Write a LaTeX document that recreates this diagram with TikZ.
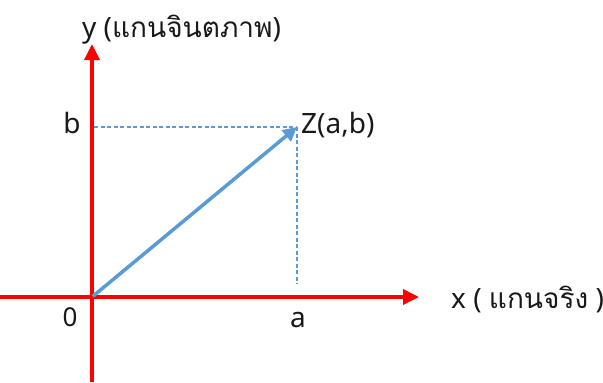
\documentclass[tikz,border=0pt]{standalone}
\usepackage{fontspec}
\setmainfont{Noto Sans}
\newfontfamily\thaifont[Script=Thai]{Loma}
\usetikzlibrary{arrows.meta}
\definecolor{axisred}{RGB}{255,0,0}
\definecolor{vecblue}{RGB}{91,155,213}
\definecolor{txt}{RGB}{25,25,25}
\tikzset{
  axisline/.style={draw=axisred, line width=3.5pt, -{Triangle[length=16pt,width=15pt]}},
  vecline/.style={draw=vecblue, line width=3.5pt, -{Triangle[length=14pt,width=14pt]}, shorten <=1pt},
  guide/.style={draw=vecblue, line width=1.1pt, dash pattern=on 4pt off 2.5pt},
  lbl/.style={text=txt, font=\fontsize{28}{32}\selectfont, inner sep=0pt},
  smalllbl/.style={text=txt, font=\fontsize{26}{30}\selectfont, inner sep=0pt}
}
\begin{document}
\begin{tikzpicture}[x=1pt,y=-1pt]
\useasboundingbox (0,0) rectangle (603,383);
\coordinate (O) at (92,297);
\coordinate (Ybot) at (92,382);
\coordinate (Ytop) at (92,44);
\coordinate (Xleft) at (0,297);
\coordinate (Xright) at (419,297);
\coordinate (Z) at (297,127);
\coordinate (Bpt) at (94,127);
\coordinate (Apt) at (297,284);
% axes
\draw[axisline] (Ybot) -- (Ytop);
\draw[axisline] (Xleft) -- (Xright);
% guides
\draw[guide] (Bpt) -- (Z);
\draw[guide] (Z) -- (Apt);
% vector
\draw[vecline] (O) -- (Z);
% labels
\node[lbl, anchor=base west] (ylab) at (82,37) {y ({\thaifont แกนจินตภาพ})};
\node[lbl, anchor=base] (blab) at (72,133) {b};
\node[lbl, anchor=base west] (zlab) at (301,133) {Z(a,b)};
\node[smalllbl, anchor=base] (olab) at (70,326) {0};
\node[lbl, anchor=base] (alab) at (298,327) {a};
\node[lbl, anchor=base west] (xlab) at (451,308) {x ( {\thaifont แกนจริง} )};
\end{tikzpicture}
\end{document}
